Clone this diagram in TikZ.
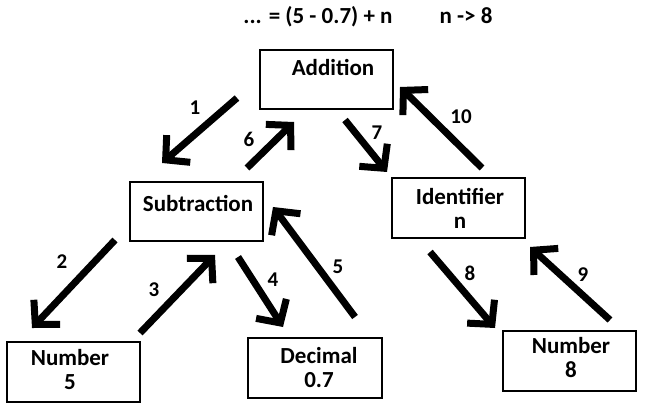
\documentclass[tikz,border=0pt]{standalone}
\usepackage{fontspec}
\setmainfont{Carlito}
\usetikzlibrary{arrows.meta}

\begin{document}
\begin{tikzpicture}[x=1pt,y=-1pt,
  box/.style={draw, line width=2.2pt, inner sep=0pt},
  txt/.style={font=\fontsize{23}{24}\selectfont\bfseries, align=center, inner sep=0pt},
  num/.style={font=\fontsize{21}{24}\selectfont\bfseries, inner sep=0pt},
  arr/.style={line width=7pt, -{Straight Barb[length=17pt,width=36pt,sharp]}}]
\useasboundingbox (0,0) rectangle (668,411);
% expression on top
\node[txt, anchor=base] (expr) at (318,24) {... = (5 - 0.7) + n};
\node[txt, anchor=base] (bind) at (466,24) {n -> 8};
% boxes of the tree
\node[box, minimum width=133pt, minimum height=59pt] (add) at (326.5,79.5) {};
\node[box, minimum width=133pt, minimum height=59pt] (sub) at (196.5,211.5) {};
\node[box, minimum width=133pt, minimum height=60pt] (ident) at (458.5,208) {};
\node[box, minimum width=133pt, minimum height=60pt] (num5) at (73.5,372) {};
\node[box, minimum width=134pt, minimum height=60pt] (dec) at (315,368) {};
\node[box, minimum width=133pt, minimum height=60pt] (num8) at (569.5,361) {};
\node[txt] (addT) at (333,68) {Addition};
\node[txt] (subT) at (198,203) {Subtraction};
\node[txt] (identT) at (460,208.5) {Identifier\\n};
\node[txt] (num5T) at (70,370) {Number\\5};
\node[txt] (decT) at (319,368) {Decimal\\0.7};
\node[txt] (num8T) at (571,358) {Number\\8};
% ends of the numbered arrows
\coordinate (t1) at (237,98);  \coordinate (h1) at (162,163);
\coordinate (t2) at (115,240); \coordinate (h2) at (32,328);
\coordinate (t3) at (140,333); \coordinate (h3) at (215,255);
\coordinate (t4) at (238,257); \coordinate (h4) at (283,327);
\coordinate (t5) at (355,317); \coordinate (h5) at (273,207);
\coordinate (t6) at (247,168); \coordinate (h6) at (294,122);
\coordinate (t7) at (345,120); \coordinate (h7) at (387,172);
\coordinate (t8) at (430,252); \coordinate (h8) at (495,328);
\coordinate (t9) at (610,320); \coordinate (h9) at (530,247);
\coordinate (t10) at (482,168); \coordinate (h10) at (400,87);
\draw[arr] (t1) -- (h1);
\draw[arr] (t2) -- (h2);
\draw[arr] (t3) -- (h3);
\draw[arr] (t4) -- (h4);
\draw[arr] (t5) -- (h5);
\draw[arr] (t6) -- (h6);
\draw[arr] (t7) -- (h7);
\draw[arr] (t8) -- (h8);
\draw[arr] (t9) -- (h9);
\draw[arr] (t10) -- (h10);
% step numbers
\node[num] (n1) at (195,108) {1};
\node[num] (n2) at (62,262) {2};
\node[num] (n3) at (154,290) {3};
\node[num] (n4) at (273,280) {4};
\node[num] (n5) at (338,267) {5};
\node[num] (n6) at (249,139) {6};
\node[num] (n7) at (377,133) {7};
\node[num] (n8) at (470,273) {8};
\node[num] (n9) at (583,275) {9};
\node[num] (n10) at (461,117) {10};
\end{tikzpicture}
\end{document}
